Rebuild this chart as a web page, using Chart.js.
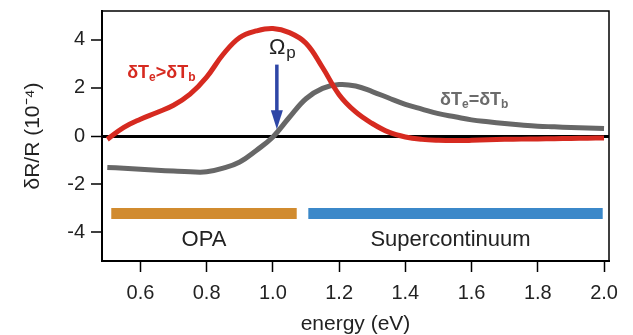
<!DOCTYPE html>
<html>
<head>
<meta charset="utf-8">
<script src="https://cdn.jsdelivr.net/npm/chart.js@4.4.1/dist/chart.umd.min.js"></script>
<style>
  body { margin: 0; background: #fff; }
</style>
</head>
<body>
<canvas id="spectrum" width="633" height="335"></canvas>
<script>
// values (energy in eV, dR/R in 1e-4)
const energy = [0.50, 0.55, 0.60, 0.65, 0.70, 0.75, 0.80, 0.85, 0.90, 0.95,
                1.00, 1.05, 1.10, 1.15, 1.20, 1.25, 1.30, 1.35, 1.40, 1.45,
                1.50, 1.55, 1.60, 1.65, 1.70, 1.75, 1.80, 1.85, 1.90, 1.95, 2.00];
const hotElectrons = [-0.14, 0.36, 0.70, 0.98, 1.28, 1.74, 2.45, 3.40, 4.10, 4.37,
                      4.47, 4.30, 3.86, 2.85, 1.72, 1.00, 0.52, 0.16, -0.04, -0.14,
                      -0.18, -0.19, -0.18, -0.16, -0.14, -0.13, -0.12, -0.11, -0.10, -0.09, -0.08];
const equilibrium = [-1.31, -1.34, -1.38, -1.42, -1.46, -1.49, -1.49, -1.34, -1.08, -0.60,
                     -0.04, 0.78, 1.55, 1.98, 2.14, 2.08, 1.85, 1.58, 1.32, 1.12,
                     0.93, 0.80, 0.67, 0.59, 0.52, 0.46, 0.41, 0.38, 0.35, 0.33, 0.31];
const opaRange = [0.512, 1.072];
const scRange = [1.107, 1.996];
const bandLevel = -3.22;
const xTicks = [0.6, 0.8, 1.0, 1.2, 1.4, 1.6, 1.8, 2.0];
const yTicks = [-4, -2, 0, 2, 4];

const FONT = "'Liberation Sans', Arial, sans-serif";

function drawSubText(ctx, parts, x0, y0, size, subSize) {
  let cx = x0;
  parts.forEach(([txt, sub]) => {
    ctx.font = 'bold ' + (sub ? subSize : size) + 'px ' + FONT;
    ctx.fillText(txt, cx, sub ? y0 + 3 : y0);
    cx += ctx.measureText(txt).width;
  });
}

const overlay = {
  id: 'overlay',
  afterDraw(chart) {
    const { ctx, chartArea: a, scales: { x, y } } = chart;
    ctx.save();
    // top and right edges of the box
    ctx.strokeStyle = '#000';
    ctx.lineWidth = 1.5;
    ctx.beginPath();
    ctx.moveTo(a.left, a.top);
    ctx.lineTo(a.right, a.top);
    ctx.lineTo(a.right, a.bottom);
    ctx.stroke();

    // pump arrow
    const ax = x.getPixelForValue(1.012);
    const yTop = y.getPixelForValue(2.97);
    const yTip = y.getPixelForValue(0.28);
    ctx.strokeStyle = ctx.fillStyle = '#2e46a6';
    ctx.lineWidth = 3.5;
    ctx.beginPath();
    ctx.moveTo(ax, yTop);
    ctx.lineTo(ax, yTip - 16);
    ctx.stroke();
    ctx.beginPath();
    ctx.moveTo(ax - 6, yTip - 19);
    ctx.lineTo(ax + 6, yTip - 19);
    ctx.lineTo(ax, yTip);
    ctx.closePath();
    ctx.fill();

    // Omega_p
    ctx.fillStyle = '#222';
    ctx.textBaseline = 'alphabetic';
    ctx.textAlign = 'left';
    ctx.font = '22px ' + FONT;
    const ox = x.getPixelForValue(0.988), oy = y.getPixelForValue(3.4);
    ctx.fillText('Ω', ox, oy);
    const ow = ctx.measureText('Ω').width;
    ctx.font = '17px ' + FONT;
    ctx.fillText('p', ox + ow + 1, oy + 4);

    // curve labels
    ctx.fillStyle = '#d62a20';
    drawSubText(ctx, [['δT', false], ['e', true], ['>δT', false], ['b', true]],
      x.getPixelForValue(0.56), y.getPixelForValue(2.4), 18, 12);
    ctx.fillStyle = '#6b6b6b';
    drawSubText(ctx, [['δT', false], ['e', true], ['=δT', false], ['b', true]],
      x.getPixelForValue(1.505), y.getPixelForValue(1.27), 18, 12);

    // band labels
    ctx.fillStyle = '#222';
    ctx.textAlign = 'center';
    ctx.textBaseline = 'middle';
    ctx.font = '22px ' + FONT;
    ctx.fillText('OPA', x.getPixelForValue((opaRange[0] + opaRange[1]) / 2), y.getPixelForValue(-4.33));
    ctx.fillText('Supercontinuum', x.getPixelForValue((scRange[0] + scRange[1]) / 2 - 0.015), y.getPixelForValue(-4.33));
    ctx.restore();
  }
};

const ctx = document.getElementById('spectrum').getContext('2d');

new Chart(ctx, {
  type: 'line',
  data: {
    datasets: [
      {
        data: energy.map((e, i) => ({ x: e, y: hotElectrons[i] })),
        borderColor: '#d62a20',
        borderWidth: 5,
        tension: 0.4,
        pointRadius: 0
      },
      {
        data: energy.map((e, i) => ({ x: e, y: equilibrium[i] })),
        borderColor: '#676767',
        borderWidth: 5,
        tension: 0.4,
        pointRadius: 0
      },
      {
        data: opaRange.map(e => ({ x: e, y: bandLevel })),
        borderColor: '#d18b2f',
        borderWidth: 11,
        borderCapStyle: 'butt',
        pointRadius: 0
      },
      {
        data: scRange.map(e => ({ x: e, y: bandLevel })),
        borderColor: '#3b88c9',
        borderWidth: 11,
        borderCapStyle: 'butt',
        pointRadius: 0
      }
    ]
  },
  options: {
    responsive: false,
    animation: false,
    layout: { padding: { left: 0, right: 24, top: 11, bottom: 0 } },
    plugins: {
      legend: { display: false },
      tooltip: { enabled: false }
    },
    scales: {
      x: {
        type: 'linear',
        min: 0.484,
        max: 2.015,
        afterBuildTicks: (scale) => { scale.ticks = xTicks.map(v => ({ value: v })); },
        afterFit: (scale) => { scale.height = 74; },
        ticks: {
          callback: (v) => v.toFixed(1),
          color: '#222',
          padding: 9,
          maxRotation: 0,
          font: { family: FONT, size: 20 }
        },
        grid: {
          drawOnChartArea: false,
          tickColor: '#000',
          tickLength: 11,
          tickWidth: 1.5
        },
        border: { display: true, color: '#000', width: 2 },
        title: {
          display: true,
          text: 'energy (eV)',
          color: '#222',
          padding: { top: 0, bottom: -2 },
          font: { family: FONT, size: 21 }
        }
      },
      y: {
        min: -5.2,
        max: 5.2,
        afterBuildTicks: (scale) => { scale.ticks = yTicks.map(v => ({ value: v })); },
        afterFit: (scale) => { scale.width = 102; scale.paddingTop = 0; scale.paddingBottom = 0; },
        ticks: {
          callback: (v) => String(v),
          color: '#222',
          padding: 6,
          font: { family: FONT, size: 20 }
        },
        grid: {
          color: (c) => (c.tick && c.tick.value === 0 ? '#000' : 'rgba(0,0,0,0)'),
          lineWidth: (c) => (c.tick && c.tick.value === 0 ? 3 : 0),
          tickColor: '#000',
          tickLength: 11,
          tickWidth: 1.5
        },
        border: { display: true, color: '#000', width: 2 },
        title: {
          display: true,
          text: 'δR/R (10⁻⁴)',
          color: '#222',
          padding: { top: 21, bottom: 0 },
          font: { family: FONT, size: 21 }
        }
      }
    }
  },
  plugins: [overlay]
});
</script>
</body>
</html>
